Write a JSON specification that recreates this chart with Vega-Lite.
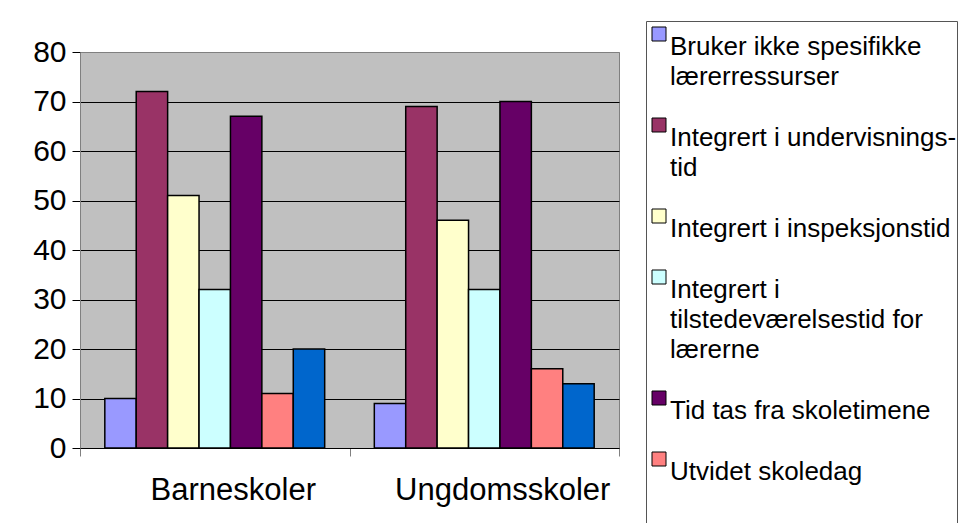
{
  "$schema": "https://vega.github.io/schema/vega-lite/v6.json",
  "width": 539,
  "height": 396,
  "autosize": {"type": "none"},
  "padding": {"left": 80, "top": 52, "right": 341, "bottom": 75},
  "background": "white",
  "data": {
    "values": [
      {"skole": "Barneskoler", "tiltak": "Bruker ikke spesifikke lærerressurser", "prosent": 10},
      {"skole": "Barneskoler", "tiltak": "Integrert i undervisningstid", "prosent": 72},
      {"skole": "Barneskoler", "tiltak": "Integrert i inspeksjonstid", "prosent": 51},
      {"skole": "Barneskoler", "tiltak": "Integrert i tilstedeværelsestid for lærerne", "prosent": 32},
      {"skole": "Barneskoler", "tiltak": "Tid tas fra skoletimene", "prosent": 67},
      {"skole": "Barneskoler", "tiltak": "Utvidet skoledag", "prosent": 11},
      {"skole": "Barneskoler", "tiltak": "Annet", "prosent": 20},
      {"skole": "Ungdomsskoler", "tiltak": "Bruker ikke spesifikke lærerressurser", "prosent": 9},
      {"skole": "Ungdomsskoler", "tiltak": "Integrert i undervisningstid", "prosent": 69},
      {"skole": "Ungdomsskoler", "tiltak": "Integrert i inspeksjonstid", "prosent": 46},
      {"skole": "Ungdomsskoler", "tiltak": "Integrert i tilstedeværelsestid for lærerne", "prosent": 32},
      {"skole": "Ungdomsskoler", "tiltak": "Tid tas fra skoletimene", "prosent": 70},
      {"skole": "Ungdomsskoler", "tiltak": "Utvidet skoledag", "prosent": 16},
      {"skole": "Ungdomsskoler", "tiltak": "Annet", "prosent": 13}
    ]
  },
  "mark": {"type": "bar", "stroke": "black", "strokeWidth": 1.5},
  "encoding": {
    "x": {
      "field": "skole",
      "type": "nominal",
      "sort": ["Barneskoler", "Ungdomsskoler"],
      "scale": {"paddingInner": 0, "paddingOuter": 0},
      "axis": {
        "title": null,
        "labelAngle": 0,
        "labelFont": "Liberation Sans",
        "labelFontSize": 31,
        "labelColor": "black",
        "labelBaseline": "top",
        "labelLimit": 400,
        "tickBand": "extent",
        "tickSize": 8,
        "tickColor": "#808080",
        "domainColor": "black",
        "labelPadding": 19,
        "labelOffset": 18
      }
    },
    "xOffset": {
      "field": "tiltak",
      "type": "nominal",
      "sort": ["Bruker ikke spesifikke lærerressurser", "Integrert i undervisningstid", "Integrert i inspeksjonstid", "Integrert i tilstedeværelsestid for lærerne", "Tid tas fra skoletimene", "Utvidet skoledag", "Annet"],
      "scale": {"paddingInner": 0, "paddingOuter": 0.79}
    },
    "y": {
      "field": "prosent",
      "type": "quantitative",
      "scale": {"domain": [0, 80], "nice": false},
      "axis": {
        "title": null,
        "values": [0, 10, 20, 30, 40, 50, 60, 70, 80],
        "grid": true,
        "gridColor": {"condition": {"test": "datum.value === 80", "value": "#808080"}, "value": "black"},
        "gridOpacity": 1,
        "labelFont": "Liberation Sans",
        "labelFontSize": 30,
        "labelColor": "black",
        "labelPadding": 6,
        "labelDy": 2,
        "tickSize": 8,
        "tickColor": "black",
        "domainColor": "#808080"
      }
    },
    "color": {
      "field": "tiltak",
      "type": "nominal",
      "scale": {
        "domain": ["Bruker ikke spesifikke lærerressurser", "Integrert i undervisningstid", "Integrert i inspeksjonstid", "Integrert i tilstedeværelsestid for lærerne", "Tid tas fra skoletimene", "Utvidet skoledag", "Annet"],
        "range": ["#9999FF", "#993366", "#FFFFCC", "#CCFFFF", "#660066", "#FF8080", "#0066CC"]
      },
      "legend": {
        "orient": "none",
        "legendX": 566,
        "legendY": -31,
        "title": null,
        "values": ["Bruker ikke spesifikke lærerressurser", "Integrert i undervisningstid", "Integrert i inspeksjonstid", "Integrert i tilstedeværelsestid for lærerne", "Tid tas fra skoletimene", "Utvidet skoledag"],
        "symbolType": "square",
        "symbolSize": 196,
        "symbolStrokeColor": "black",
        "symbolStrokeWidth": 1,
        "symbolOpacity": 1,
        "labelFont": "Liberation Sans",
        "labelFontSize": 26,
        "labelColor": "black",
        "labelLimit": 400,
        "labelOffset": -2,
        "labelBaseline": "top",
        "rowPadding": 22,
        "padding": 0,
        "strokeColor": "#555555",
        "labelExpr": "datum.label === 'Bruker ikke spesifikke lærerressurser' ? ['Bruker ikke spesifikke', 'lærerressurser'] : datum.label === 'Integrert i undervisningstid' ? ['Integrert i undervisnings-', 'tid'] : datum.label === 'Integrert i tilstedeværelsestid for lærerne' ? ['Integrert i', 'tilstedeværelsestid for', 'lærerne'] : datum.label === 'Utvidet skoledag' ? ['Utvidet skoledag', '', '', ''] : datum.label",
        "encode": {"labels": {"update": {"lineHeight": {"value": 30}}}}
      }
    }
  },
  "config": {
    "view": {"fill": "#C0C0C0", "stroke": "#808080"},
    "font": "Liberation Sans"
  }
}
